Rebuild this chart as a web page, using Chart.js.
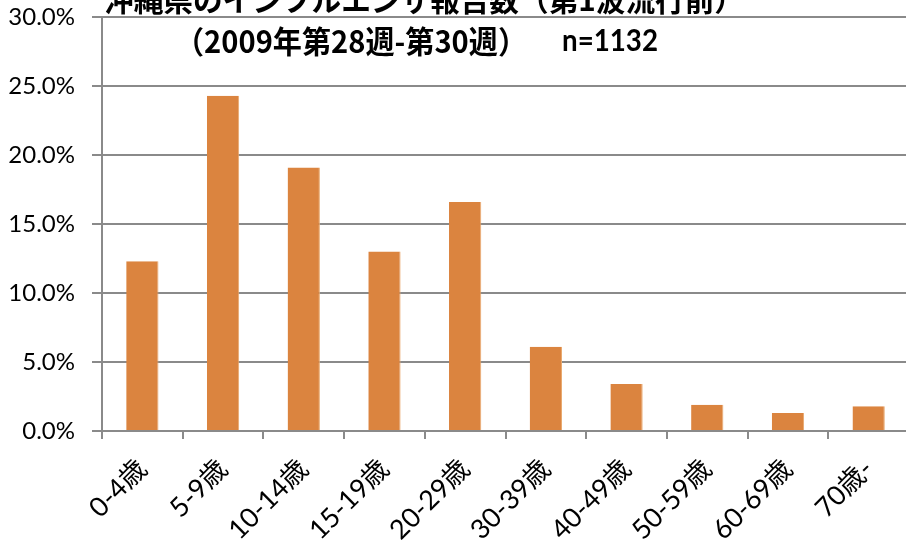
<!DOCTYPE html>
<html>
<head>
<meta charset="utf-8">
<script src="https://cdn.jsdelivr.net/npm/chart.js@4.4.0/dist/chart.umd.min.js"></script>
<style>
  html, body { margin: 0; padding: 0; background: #fff; overflow: hidden; }
  #wrap { position: relative; width: 909px; height: 542px; }
</style>
</head>
<body>
<div id="wrap"><canvas id="mycanvas"></canvas></div>
<script>
// 年齢階級別の割合 (%)
var ageGroups = ['0-4歳', '5-9歳', '10-14歳', '15-19歳', '20-29歳', '30-39歳', '40-49歳', '50-59歳', '60-69歳', '70歳-'];
var percents = [12.3, 24.3, 19.1, 13.0, 16.6, 6.1, 3.4, 1.9, 1.3, 1.8];
var yTicks = [0, 5, 10, 15, 20, 25, 30];
var titleLine1 = '沖縄県のインフルエンザ報告数（第1波流行前）';
var titleLine2a = '（2009年第28週-第30週）';
var titleLine2b = 'n=1132';

// draw text squeezed/stretched to a given width
function fitText(ctx, text, x, y, w) {
    var m = ctx.measureText(text).width;
    ctx.save();
    ctx.translate(x, y);
    ctx.scale(w / m, 1);
    ctx.fillText(text, 0, 0);
    ctx.restore();
}

var titlePlugin = {
    id: 'titleText',
    afterDraw: function (chart) {
        var ctx = chart.ctx;
        ctx.save();
        ctx.fillStyle = '#000';
        ctx.textAlign = 'left';
        ctx.textBaseline = 'middle';
        ctx.font = 'bold 30px "Noto Sans CJK JP", sans-serif';
        fitText(ctx, titleLine1, 104, 0, 640);
        ctx.font = 'bold 31px "Noto Sans CJK JP", sans-serif';
        fitText(ctx, titleLine2a, 175, 41, 352);
        ctx.font = 'bold 31px Lato, "Noto Sans CJK JP", sans-serif';
        fitText(ctx, titleLine2b, 562, 41, 96);
        ctx.restore();
    }
};

var ctx = document.getElementById('mycanvas');

var barGraph = new Chart(ctx, {
    type: 'bar',
    data: {
        labels: ageGroups,
        datasets: [{
            data: percents,
            backgroundColor: '#DB843F',
            borderColor: '#E9A96E',
            borderWidth: { right: 1, left: 0, top: 0, bottom: 0 },
            categoryPercentage: 1.0,
            barPercentage: 0.4
        }]
    },
    options: {
        responsive: true,
        maintainAspectRatio: false,
        animation: false,
        layout: { padding: { top: 17, left: 0, right: 0, bottom: 0 } },
        plugins: {
            legend: { display: false },
            title: { display: false },
            tooltip: { enabled: false }
        },
        scales: {
            x: {
                grid: {
                    offset: true,
                    drawOnChartArea: false,
                    drawTicks: true,
                    tickLength: 8,
                    color: '#8a8a8a',
                    lineWidth: 2
                },
                border: { color: '#8a8a8a', width: 2 },
                ticks: {
                    color: '#000',
                    font: { family: 'Lato, "Noto Sans CJK JP", sans-serif', size: 27 },
                    minRotation: 45,
                    maxRotation: 45,
                    padding: 14,
                    autoSkip: false
                },
                afterFit: function (scale) {
                    scale.height = 111;
                    scale.paddingLeft = 0;
                    scale.paddingRight = 0;
                }
            },
            y: {
                min: 0,
                max: 30,
                afterBuildTicks: function (scale) {
                    scale.ticks = yTicks.map(function (v) { return { value: v }; });
                },
                grid: {
                    color: '#8a8a8a',
                    lineWidth: 2,
                    drawTicks: true,
                    tickLength: 10
                },
                border: { color: '#8a8a8a', width: 2 },
                ticks: {
                    color: '#000',
                    font: { family: 'Lato, sans-serif', size: 24 },
                    padding: 17,
                    callback: function (v) { return v.toFixed(1) + '%'; }
                },
                afterFit: function (scale) {
                    scale.width = 102;
                    scale.paddingTop = 0;
                    scale.paddingBottom = 0;
                }
            }
        }
    },
    plugins: [titlePlugin]
});
</script>
</body>
</html>
